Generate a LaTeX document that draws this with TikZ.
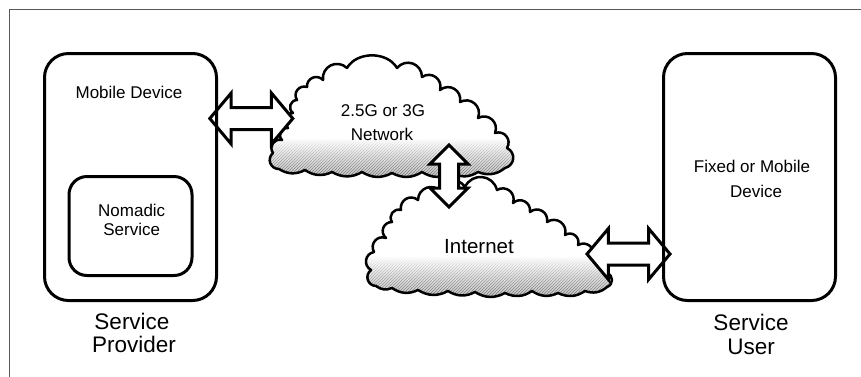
\documentclass[tikz,border=0pt]{standalone}
\usepackage{fontspec}
\setmainfont{Liberation Sans}
\usetikzlibrary{shapes.arrows,patterns,fadings}
\newcommand\cloudApath{(279,169) to[bump] (273,153) to[bump] (282,140) to[bump] (288,128) to[bump] (293,113) to[bump] (297,100) to[bump] (307,87) to[bump] (323,80) to[bump] (347,68) to[bigbump] (397,68) to[bump] (422,77) to[bump] (440,90) to[bump] (460,102) to[bump] (478,118) to[bump] (495,133) to[bump] (507,148) to[bump] (505,168) to[flat] (478,172) to[flat] (452,173) to[flat] (422,172) to[flat] (392,173) to[flat] (362,172) to[flat] (332,172) to[flat] (305,170) to[flat] (279,169) -- cycle}
\newcommand\cloudBpath{(376,286) to[bump] (371,270) to[bump] (374,252) to[bump] (386,238) to[bump] (392,222) to[bump] (401,210) to[bump] (418,200) to[bump] (441,192) to[bump] (465,187) to[bump] (497,190) to[bump] (513,203) to[bump] (530,212) to[bump] (547,222) to[bump] (565,235) to[bump] (578,245) to[bump] (593,258) to[bump] (607,273) to[bump] (607,287) to[flat] (585,291) to[flat] (558,293) to[flat] (532,291) to[flat] (505,293) to[flat] (475,292) to[flat] (448,291) to[flat] (418,290) to[flat] (392,288) to[flat] (376,286) -- cycle}
\begin{document}
\begin{tikzpicture}[x=1pt,y=-1pt,
  box/.style={draw, line width=3pt, inner sep=0pt},
  lbl/.style={inner sep=0pt, anchor=base, font=\fontsize{17}{20}\selectfont},
  midlbl/.style={inner sep=0pt, anchor=base, font=\fontsize{20.5}{24}\selectfont},
  biglbl/.style={inner sep=0pt, anchor=base, font=\fontsize{22.5}{26}\selectfont},
  blockarrow/.style={double arrow, draw, fill=white, line width=3pt, inner xsep=0pt},
  cloudline/.style={draw=black, line width=2.5pt, line join=round},
  bump/.style={bend left=70, looseness=1.3},
  bigbump/.style={bend left=60},
  flat/.style={bend left=30},
  hatch/.style={pattern=north east lines, pattern color=black!55, path fading=north},
]
\useasboundingbox (0,0) rectangle (861,376);
% outer frame
\draw[black!65, line width=1pt] (9,400) -- (9,9) -- (900,9);

% cloud A
\fill[white] \cloudApath;
\begin{scope}
  \clip \cloudApath;
  \shade[top color=white, bottom color=black!22] (265,138) rectangle (520,176);
  \fill[hatch] (265,138) rectangle (520,176);
\end{scope}
\path[cloudline] \cloudApath;

% cloud B
\fill[white] \cloudBpath;
\begin{scope}
  \clip \cloudBpath;
  \shade[top color=white, bottom color=black!22] (360,256) rectangle (620,296);
  \fill[hatch] (360,256) rectangle (620,296);
\end{scope}
\path[cloudline] \cloudBpath;

\node[lbl] (netA) at (383,116.7) {2.5G or 3G};
\node[lbl] (netB) at (382,140.7) {Network};
\node[midlbl] (inet) at (479,253.3) {Internet};

% block arrows
\node[blockarrow, inner ysep=9.5pt, double arrow head extend=14.5pt, double arrow tip angle=100, minimum height=83pt] (arrowA) at (251.3,118.5) {};
\node[blockarrow, inner ysep=8pt, double arrow head extend=9.5pt, double arrow tip angle=90, minimum height=62pt, rotate=90] (arrowB) at (449,176) {};
\node[blockarrow, inner ysep=9.5pt, double arrow head extend=14.5pt, double arrow tip angle=100, minimum height=83pt] (arrowC) at (628.5,254) {};

% boxes
\node[box, rounded corners=24pt, minimum width=172pt, minimum height=247pt] (mobile) at (130.5,177) {};
\node[box, rounded corners=18pt, minimum width=123pt, minimum height=99pt] (nomadic) at (130.5,226) {};
\node[box, rounded corners=24pt, minimum width=172pt, minimum height=247pt] (fixed) at (749.5,177) {};

% labels
\node[lbl] (mobiletxt) at (129,98.7) {Mobile Device};
\node[lbl] (nomA) at (131.7,216.7) {Nomadic};
\node[lbl] (nomB) at (131.7,235) {Service};
\node[lbl] (fixA) at (752,172.7) {Fixed or Mobile};
\node[lbl] (fixB) at (756,197.3) {Device};
\node[biglbl] (spA) at (132,329.3) {Service};
\node[biglbl] (spB) at (134,352.7) {Provider};
\node[biglbl] (suA) at (751,330) {Service};
\node[biglbl] (suB) at (751,354) {User};
\end{tikzpicture}
\end{document}
